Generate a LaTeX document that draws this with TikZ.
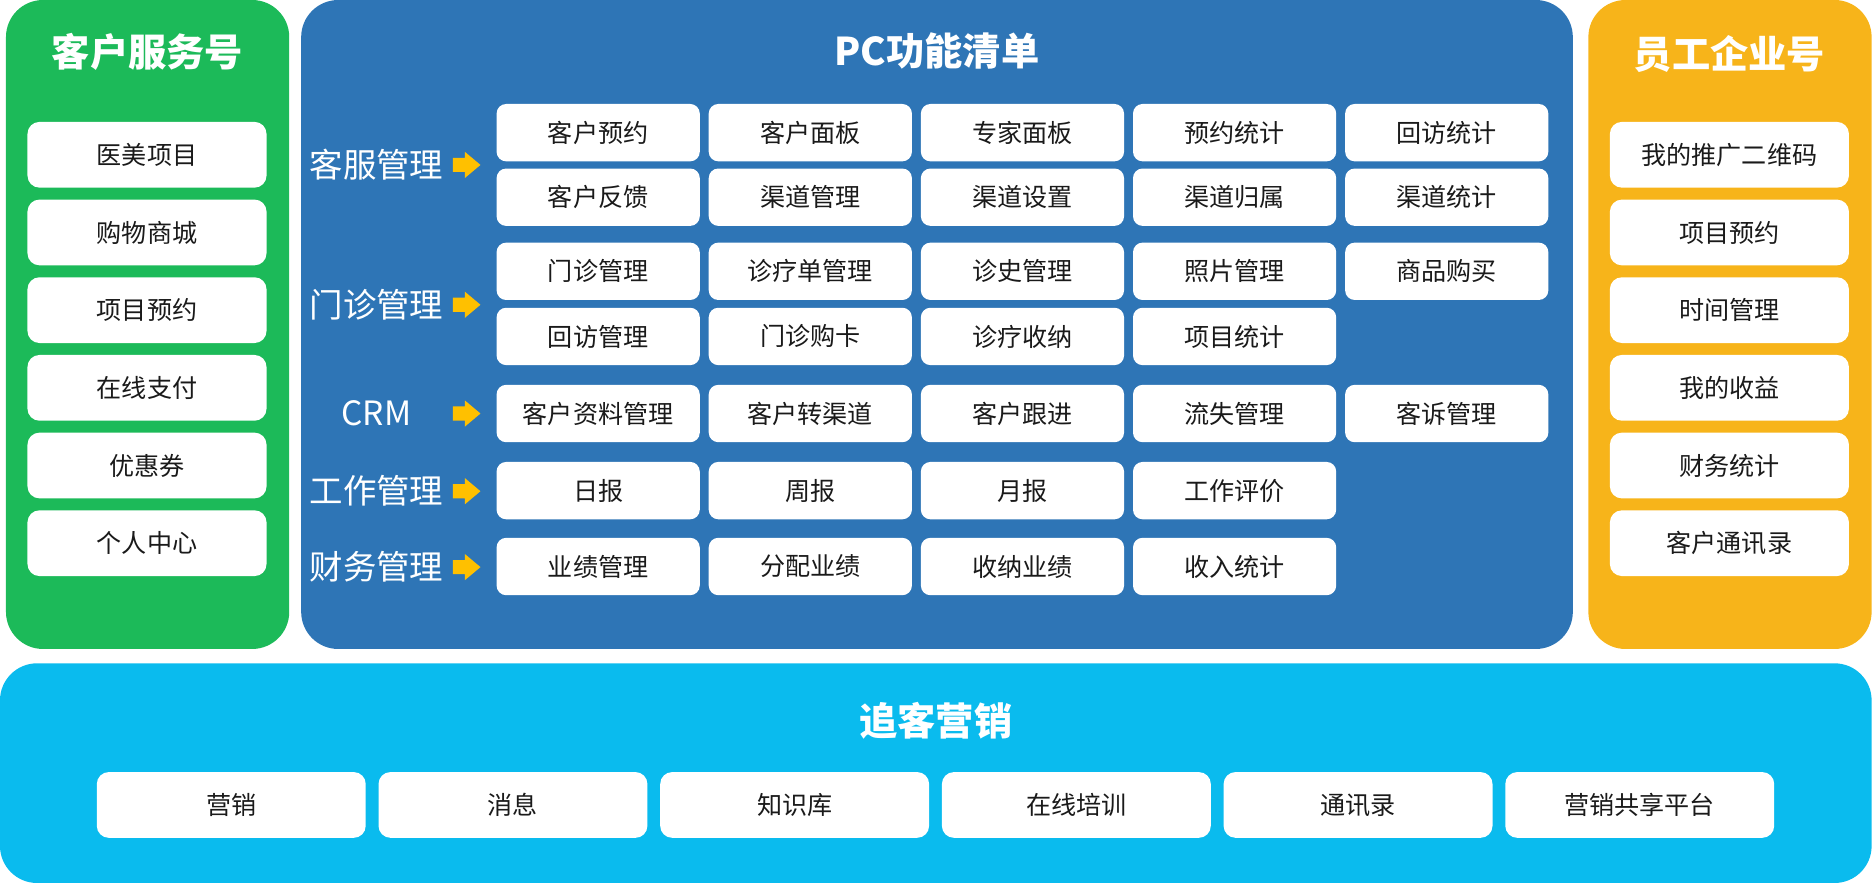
\documentclass[tikz,border=0pt]{standalone}
\usepackage{fontspec}
\setmainfont{Noto Sans CJK SC}
\usepackage{xcolor}
\usepackage{tikz}
\usetikzlibrary{shapes, arrows, positioning, arrows.meta}
\definecolor{verde}{HTML}{1CBA59}
\definecolor{azul}{HTML}{2E75B6}
\definecolor{naranja}{HTML}{F7B41A}
\definecolor{celeste}{HTML}{0ABBEE}
\definecolor{amarillo}{HTML}{FFC000}
\definecolor{texto}{HTML}{1A1A1A}
\tikzset{
    panel/.style={rounded corners=15.5pt},
    celda/.style={fill=white, rounded corners=4pt, minimum width=85pt, minimum height=24pt,
        inner sep=0pt, text=texto, font=\fontsize{10.5}{12}\selectfont},
    lateral/.style={celda, minimum width=100pt, minimum height=27.5pt, rounded corners=5pt},
    inferior/.style={lateral, minimum width=112.5pt},
    titulo/.style={text=white, font=\bfseries\fontsize{16}{18}\selectfont},
    etiqueta/.style={text=white, font=\fontsize{14}{16}\selectfont},
    flecha/.style={single arrow, fill=amarillo, minimum height=11.5pt, inner xsep=0pt,
        inner ysep=2.75pt, single arrow head extend=2.5pt, single arrow tip angle=80}
}
\begin{document}
\begin{tikzpicture}[x=0.5pt, y=-0.5pt]
        \useasboundingbox (0,0) rectangle (1568,738.8);
        % Paneles de fondo
        \fill[verde, panel] (5,0) rectangle (242,543);
        \fill[azul, panel] (252,0) rectangle (1316,543);
        \fill[naranja, panel] (1329,0) rectangle (1566,543);
        \fill[celeste, panel] (0,555) rectangle (1566,738.8);
        % Titulos
        \node[titulo] (tverde) at (123.5,43.5) {客户服务号};
        \node[titulo] (tazul) at (784,43) {PC功能清单};
        \node[titulo] (tnaranja) at (1447,45) {员工企业号};
        \node[titulo] (tceleste) at (783,603) {追客营销};
        % Columna izquierda y derecha
        \foreach \t [count=\i] in {医美项目,购物商城,项目预约,在线支付,优惠券,个人中心} {
            \node[lateral] (izq\i) at (123,{64.5+65*\i}) {\t};
        }
        \foreach \t [count=\i] in {我的推广二维码,项目预约,时间管理,我的收益,财务统计,客户通讯录} {
            \node[lateral] (der\i) at (1447,{64.5+65*\i}) {\t};
        }
        % Etiquetas de fila con flechas
        \foreach \t/\y [count=\i] in {客服管理/138,门诊管理/255,CRM/346,工作管理/411,财务管理/474.5} {
            \node[etiqueta] (etq\i) at (315,\y) {\t};
            \node[flecha] (fl\i) at (387,\y) {};
        }
        % Matriz de funciones PC
        \foreach \y/\lista [count=\j] in {
            111/{客户预约,客户面板,专家面板,预约统计,回访统计},
            165/{客户反馈,渠道管理,渠道设置,渠道归属,渠道统计},
            227/{门诊管理,诊疗单管理,诊史管理,照片管理,商品购买},
            281.5/{回访管理,门诊购卡,诊疗收纳,项目统计},
            346/{客户资料管理,客户转渠道,客户跟进,流失管理,客诉管理},
            410.5/{日报,周报,月报,工作评价},
            474/{业绩管理,分配业绩,收纳业绩,收入统计}} {
            \foreach \t [count=\i] in \lista {
                \node[celda] (f\j c\i) at ({500.5+177.5*(\i-1)},\y) {\t};
            }
        }
        % Fila inferior
        \foreach \t [count=\i] in {营销,消息,知识库,在线培训,通讯录,营销共享平台} {
            \node[inferior] (inf\i) at ({193.5+235.7*(\i-1)},673.5) {\t};
        }
    \end{tikzpicture}
\end{document}
